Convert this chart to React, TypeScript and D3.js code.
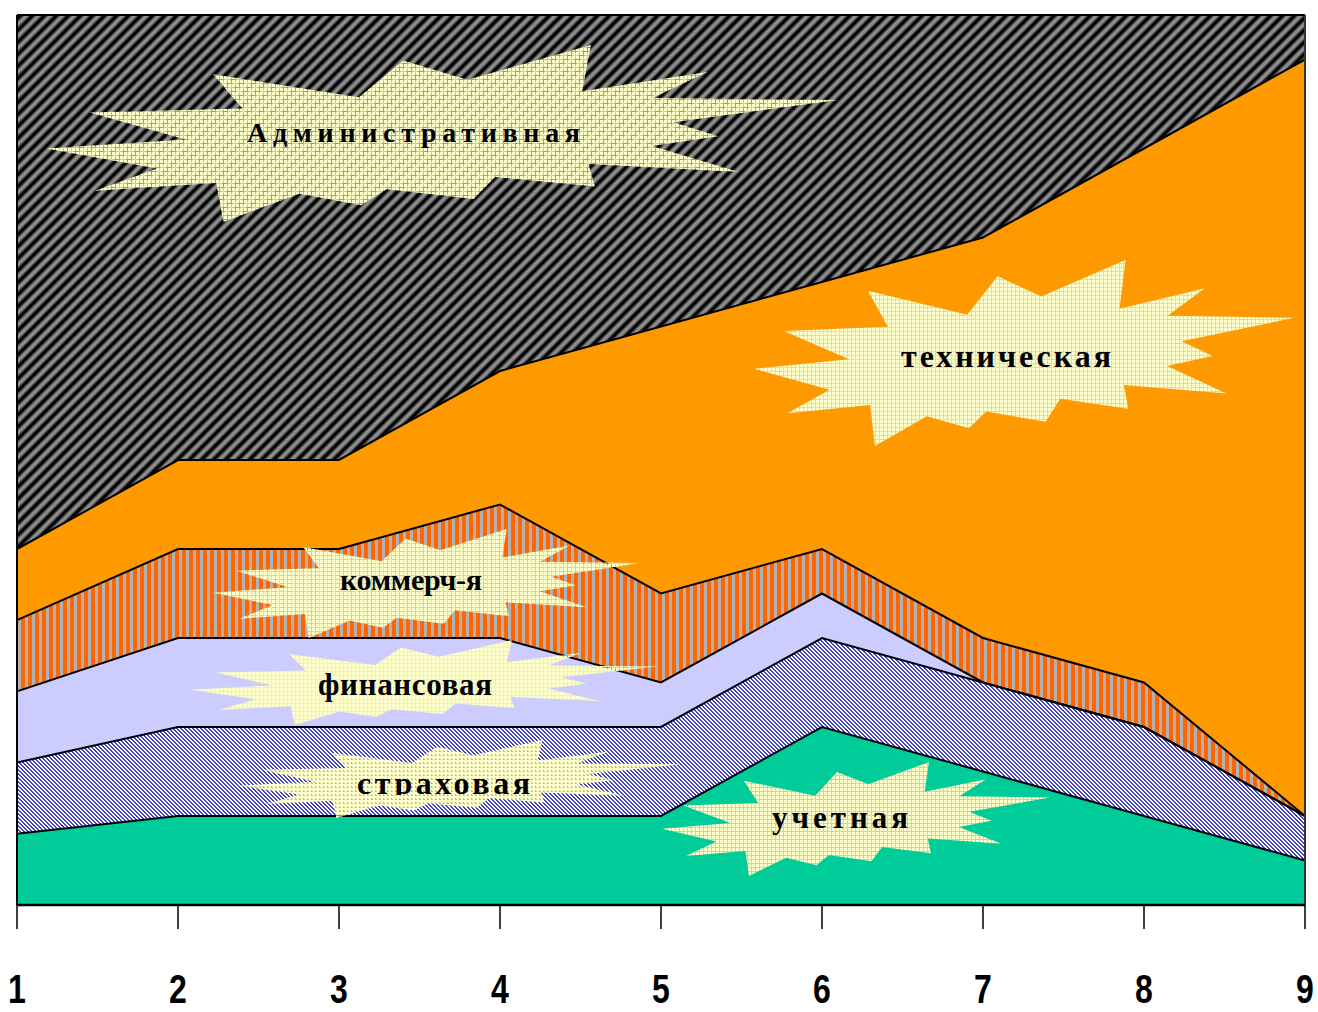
import * as d3 from "d3";

// periods on the x axis
const periods = ["1", "2", "3", "4", "5", "6", "7", "8", "9"];

// shares of each function, % (stacked bottom -> top)
const uchetnaya = [8, 10, 10, 10, 10, 20, 15, 10, 5];
const strakhovaya = [8, 10, 10, 10, 10, 10, 10, 10, 5];
const finansovaya = [8, 10, 10, 10, 5, 5, 0, 0, 0];
const kommercheskaya = [8, 10, 10, 15, 10, 5, 5, 5, 0];
const tekhnicheskaya = [8, 10, 10, 15, 30, 30, 45, 60, 85];
const administrativnaya = [60, 50, 50, 40, 35, 30, 25, 15, 5];

const seriesNames = [
  "учетная",
  "страховая",
  "финансовая",
  "коммерч-я",
  "техническая",
  "Административная",
];
const seriesValues = [
  uchetnaya,
  strakhovaya,
  finansovaya,
  kommercheskaya,
  tekhnicheskaya,
  administrativnaya,
];

const fills = [
  "#00CC99",
  "url(#hatchBlue)",
  "#CCCCFF",
  "url(#stripeOrange)",
  "#FF9900",
  "url(#stripeBlack)",
];

// "explosion" callout outline, normalised to its bounding box
const burst: [number, number][] = [
  [0, 0.585], [0.14, 0.698], [0.062, 0.824], [0.215, 0.78], [0.224, 1],
  [0.32, 0.84], [0.398, 0.905], [0.43, 0.815], [0.54, 0.87], [0.567, 0.746],
  [0.693, 0.8], [0.685, 0.672], [0.875, 0.718], [0.765, 0.57], [0.849, 0.516],
  [0.792, 0.437], [1, 0.311], [0.766, 0.3], [0.835, 0.152], [0.677, 0.262],
  [0.688, 0], [0.532, 0.196], [0.451, 0.087], [0.395, 0.295], [0.211, 0.165],
  [0.248, 0.359], [0.055, 0.382], [0.176, 0.534],
];

// callouts: box [x0, y0, x1, y1], text start / baseline / length, font size
const callouts = [
  { text: "Административная", box: [46, 45, 838, 222], tx: 247, ty: 142, tl: 333, fs: 28 },
  { text: "техническая", box: [754, 260, 1294, 446], tx: 901, ty: 367, tl: 210, fs: 32 },
  { text: "коммерч-я", box: [213, 529, 640, 638], tx: 340, ty: 590, tl: 142, fs: 30 },
  { text: "финансовая", box: [190, 640, 658, 725], tx: 318, ty: 695, tl: 174, fs: 31 },
  { text: "страховая", box: [237, 740, 681, 818], tx: 357, ty: 794, tl: 173, fs: 32, clip: 795 },
  { text: "учетная", box: [662, 762, 1050, 876], tx: 772, ty: 828, tl: 136, fs: 31 },
];

const W = 1318;
const H = 1012;
const left = 17;
const right = 1305;
const top = 15;
const bottom = 905;

export default function App() {
  const x = d3.scalePoint<string>().domain(periods).range([left, right]);
  const y = d3.scaleLinear().domain([0, 100]).range([bottom, top]);

  const rows = periods.map((p, i) => {
    const r: any = { period: p };
    seriesNames.forEach((n, k) => (r[n] = seriesValues[k][i]));
    return r;
  });
  const stacked = d3.stack<any>().keys(seriesNames)(rows);

  const area = d3
    .area<any>()
    .x((d) => x(d.data.period)!)
    .y0((d) => y(d[0]))
    .y1((d) => y(d[1]));
  const line = d3
    .line<any>()
    .x((d) => x(d.data.period)!)
    .y((d) => y(d[1]));

  const burstPath = (b: number[]) => {
    const bx = d3.scaleLinear().range([b[0], b[2]]);
    const by = d3.scaleLinear().range([b[1], b[3]]);
    return d3.line()(burst.map(([u, v]) => [bx(u), by(v)])) + "Z";
  };

  // blue "\" hatch, one pixel shift per row
  const hatchCells = [0, 1, 2, 3].flatMap((r) =>
    [r, (r + 1) % 4].map((c) => ({ r, c }))
  );

  return (
    <svg
      width={W}
      height={H}
      style={{ position: "absolute", left: 0, top: 0, background: "#fff" }}
    >
      <defs>
        <pattern id="stripeBlack" width="8.5" height="8.5" patternUnits="userSpaceOnUse" patternTransform="rotate(45)">
          <rect width="8.5" height="8.5" fill="#000" />
          <rect x="1.3" width="5.9" height="8.5" fill="#333" />
          <rect x="2.1" width="4.3" height="8.5" fill="#686868" />
          <rect x="3" width="2.5" height="8.5" fill="#909090" />
        </pattern>
        <pattern id="stripeOrange" width="7" height="7" patternUnits="userSpaceOnUse">
          <rect width="7" height="7" fill="#B2B2B2" />
          <rect width="4" height="7" fill="#FF6600" />
        </pattern>
        <pattern id="hatchBlue" width="4" height="4" patternUnits="userSpaceOnUse">
          <rect width="4" height="4" fill="#fff" />
          {hatchCells.map((h, i) => (
            <rect key={i} x={h.c} y={h.r} width="1" height="1" fill="#4040C8" />
          ))}
        </pattern>
        <pattern id="burstFill" width="4" height="4" patternUnits="userSpaceOnUse">
          <rect width="3" height="3" fill="#FFFFCC" />
          <rect x="3" width="1" height="4" fill="#FFFFCC" fillOpacity="0.6" />
          <rect y="3" width="3" height="1" fill="#FFFFCC" fillOpacity="0.6" />
        </pattern>
        {callouts
          .filter((c) => c.clip)
          .map((c, i) => (
            <clipPath id={`clip${i}`} key={i}>
              <rect x={0} y={0} width={W} height={c.clip} />
            </clipPath>
          ))}
      </defs>

      {stacked.map((s, i) => (
        <path key={s.key} d={area(s)!} fill={fills[i]} stroke="none" />
      ))}
      {stacked.slice(0, -1).map((s) => (
        <path
          key={s.key + "-line"}
          d={line(s)!}
          fill="none"
          stroke="#000"
          strokeWidth={2}
          strokeLinejoin="miter"
        />
      ))}

      {/* plot frame */}
      <line x1={left} x2={right} y1={top} y2={top} stroke="#000" strokeWidth={2} />
      <line x1={left} x2={left} y1={top} y2={bottom} stroke="#000" strokeWidth={2} />
      <line x1={right} x2={right} y1={top} y2={bottom} stroke="#333" strokeWidth={2} />

      {/* callouts */}
      {callouts.map((c) => (
        <g key={c.text}>
          <path d={burstPath(c.box)} fill="url(#burstFill)" />
          <text
            x={c.tx}
            y={c.ty}
            textLength={c.tl}
            lengthAdjust="spacing"
            fontFamily="'Liberation Serif', 'Times New Roman', serif"
            fontWeight="bold"
            fontSize={c.fs}
            fill="#000"
            clipPath={c.clip ? `url(#clip0)` : undefined}
          >
            {c.text}
          </text>
        </g>
      ))}

      {/* x axis */}
      <line x1={left} x2={right} y1={bottom} y2={bottom} stroke="#000" strokeWidth={2.5} />
      {periods.map((p) => (
        <g key={p} transform={`translate(${x(p)},0)`}>
          <line y1={bottom} y2={bottom + 24} stroke="#000" strokeWidth={1.5} />
          <text
            transform={`translate(0,1003) scale(0.8,1)`}
            textAnchor="middle"
            fontFamily="'Liberation Sans', Arial, sans-serif"
            fontWeight="bold"
            fontSize={40}
            fill="#000"
          >
            {p}
          </text>
        </g>
      ))}
    </svg>
  );
}
